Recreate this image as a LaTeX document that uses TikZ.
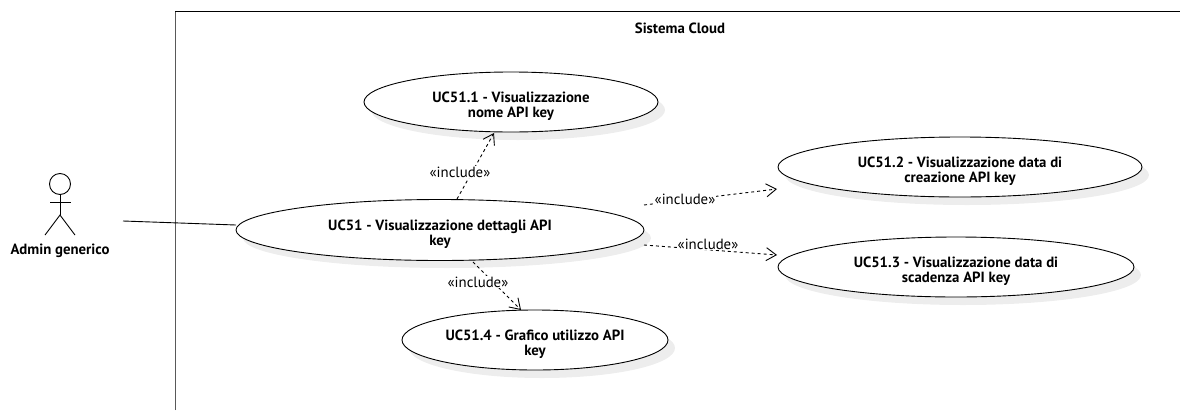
\documentclass[tikz,border=0pt]{standalone}
\usepackage{fontspec}
\setmainfont{PT Sans}
\usetikzlibrary{arrows.meta,shapes.geometric}
\newcommand{\ucpad}{\rule{0pt}{19pt}}
\tikzset{
  x=1pt,y=-1pt,
  uc/.style={ellipse,draw=black,line width=0.9pt,fill=white,inner sep=0pt,align=center,font=\bfseries\fontsize{14.8}{15.5}\selectfont},
  incl/.style={draw=black,line width=0.9pt,dash pattern=on 3pt off 3pt,-{Straight Barb[length=10pt,width=13pt,line width=0.9pt]}},
  lab/.style={fill=white,inner sep=0.5pt,font=\fontsize{14.8}{16}\selectfont},
  shade/.style={fill=black!7,draw=none},
  stick/.style={draw=black,line width=0.9pt}
}
\begin{document}
\begin{tikzpicture}
\useasboundingbox (0,0) rectangle (1180,410);
\draw[draw=black!65,line width=1.2pt] (175.7,410) -- (175.7,11.5);
\draw[draw=black,line width=1pt] (175.2,11.5) -- (1180,11.5);
\node[font=\bfseries\fontsize{14.8}{16}\selectfont] (title) at (680,28) {Sistema Cloud};
\foreach \cx/\cy/\rx in {511/102/147,440/230/204,960/167/182,956/267/178,535/340/133}
  \fill[shade] (\cx+7,\cy+8) ellipse [x radius=\rx,y radius=30];
\node[uc,minimum width=294pt,minimum height=60pt] (a) at (511,102) {\ucpad UC51.1 - Visualizzazione\\nome API key};
\node[uc,minimum width=408pt,minimum height=61pt] (m) at (440,230) {\ucpad UC51 - Visualizzazione dettagli API\\key};
\node[uc,minimum width=364pt,minimum height=60pt] (b) at (960,167) {\ucpad UC51.2 - Visualizzazione data di\\creazione API key};
\node[uc,minimum width=356pt,minimum height=60pt] (c) at (956,267) {\ucpad UC51.3 - Visualizzazione data di\\scadenza API key};
\node[uc,minimum width=266pt,minimum height=60pt] (d) at (535,340) {\ucpad UC51.4 - Grafico utilizzo API\\key};
\coordinate (actorend) at (123,221);
\coordinate (mstart) at (236,225);
\draw[stick] (actorend) -- (mstart);
\coordinate (s1) at (457,199);\coordinate (e1) at (494,133);
\coordinate (s2) at (644,205);\coordinate (e2) at (777,189);
\coordinate (s3) at (644,245);\coordinate (e3) at (777,255);
\coordinate (s4) at (473,262);\coordinate (e4) at (521,310);
\draw[incl] (s1) -- (e1);
\draw[incl] (s2) -- (e2);
\draw[incl] (s3) -- (e3);
\draw[incl] (s4) -- (e4);
\node[lab] (l1) at (460,172) {«include»};
\node[lab] (l2) at (685,199) {«include»};
\node[lab] (l3) at (708,244) {«include»};
\node[lab] (l4) at (478,282) {«include»};
\node[circle,draw=black,line width=0.9pt,minimum size=21pt,inner sep=0pt] (head) at (60,184) {};
\coordinate (hip) at (60,215);
\coordinate (arml) at (50,202);\coordinate (armr) at (71,202);
\coordinate (legl) at (45,235);\coordinate (legr) at (75,235);
\draw[stick] (head.south) -- (hip);
\draw[stick] (arml) -- (armr);
\draw[stick] (legl) -- (hip) -- (legr);
\node[font=\bfseries\fontsize{14.8}{16}\selectfont] (actor) at (60,251) {Admin generico};
\end{tikzpicture}
\end{document}
